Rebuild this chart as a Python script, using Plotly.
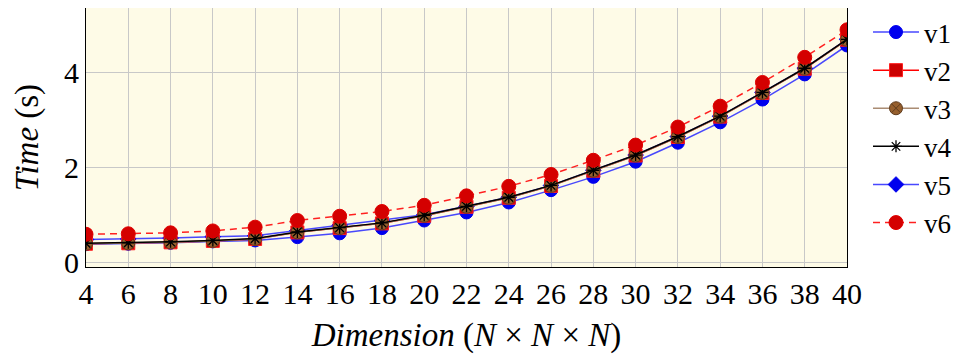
import plotly.graph_objects as go

dims = [4, 6, 8, 10, 12, 14, 16, 18, 20, 22, 24, 26, 28, 30, 32, 34, 36, 38, 40]
v1 = [0.38, 0.39, 0.41, 0.44, 0.46, 0.53, 0.61, 0.72, 0.88, 1.05, 1.26, 1.52, 1.80, 2.12, 2.52, 2.95, 3.43, 3.96, 4.57]
v2 = [0.39, 0.40, 0.42, 0.45, 0.49, 0.63, 0.72, 0.82, 0.98, 1.17, 1.36, 1.61, 1.93, 2.25, 2.64, 3.07, 3.57, 4.08, 4.69]
v3 = [0.39, 0.40, 0.42, 0.45, 0.49, 0.63, 0.72, 0.82, 0.98, 1.17, 1.36, 1.61, 1.93, 2.25, 2.64, 3.07, 3.57, 4.08, 4.69]
v4 = [0.40, 0.41, 0.43, 0.46, 0.50, 0.64, 0.73, 0.83, 0.99, 1.18, 1.37, 1.62, 1.94, 2.26, 2.65, 3.08, 3.58, 4.09, 4.70]
v5 = [0.48, 0.49, 0.51, 0.54, 0.56, 0.67, 0.78, 0.88, 1.00, 1.18, 1.37, 1.62, 1.94, 2.26, 2.65, 3.08, 3.58, 4.09, 4.70]
v6 = [0.59, 0.60, 0.62, 0.66, 0.74, 0.88, 0.97, 1.07, 1.20, 1.40, 1.60, 1.85, 2.15, 2.47, 2.85, 3.29, 3.79, 4.32, 4.90]
x_ticks = dims
y_ticks = [0, 2, 4]

FONT = "Liberation Serif"
BLUE_LINE = "rgba(40,40,255,0.85)"

fig = go.Figure()
# drawing order: v1, v5, v2, v3, v4, v6 (legend order kept via legendrank)
fig.add_trace(go.Scatter(x=dims, y=v1, name="v1", legendrank=1, mode="lines+markers",
                         line=dict(color=BLUE_LINE, width=1.5),
                         marker=dict(symbol="circle", size=13, color="#0000ee",
                                     line=dict(color="#0000ee", width=1))))
fig.add_trace(go.Scatter(x=dims, y=v5, name="v5", legendrank=5, mode="lines+markers",
                         line=dict(color=BLUE_LINE, width=1.5),
                         marker=dict(symbol="diamond", size=12, color="#0000ee",
                                     line=dict(color="#0000ee", width=1))))
fig.add_trace(go.Scatter(x=dims, y=v2, name="v2", legendrank=2, mode="lines+markers",
                         line=dict(color="#ff0000", width=1.5),
                         marker=dict(symbol="square", size=13, color="#cc0000",
                                     line=dict(color="#ff2020", width=1))))
fig.add_trace(go.Scatter(x=dims, y=v3, name="v3", legendrank=3, mode="lines+markers",
                         line=dict(color="rgb(170,140,115)", width=1.5),
                         marker=dict(symbol="circle-x", size=13, color="rgb(150,95,45)",
                                     line=dict(color="rgb(95,60,30)", width=1))))
fig.add_trace(go.Scatter(x=dims, y=v4, name="v4", legendrank=4, mode="lines+markers",
                         line=dict(color="#000000", width=1.5),
                         marker=dict(symbol="asterisk-open", size=10, color="#000000",
                                     line=dict(color="#000000", width=1.3))))
fig.add_trace(go.Scatter(x=dims, y=v6, name="v6", legendrank=6, mode="lines+markers",
                         line=dict(color="#ff2020", width=1.5, dash="7px,5px"),
                         marker=dict(symbol="circle", size=14, color="#d40000",
                                     line=dict(color="#e00000", width=1))))

# the page places the figure 8px from the top-left corner, so the figure is 8px smaller
fig.update_layout(
    width=961, height=346,
    margin=dict(l=78, r=122, t=0, b=87),
    paper_bgcolor="white",
    plot_bgcolor="#fefbe7",
    font=dict(family=FONT, size=30, color="black"),
    legend=dict(x=1.0276, y=1.0, xanchor="left", yanchor="top",
                font=dict(family=FONT, size=27), bgcolor="rgba(0,0,0,0)",
                tracegroupgap=0, itemwidth=46, traceorder="normal",
                borderwidth=0),
    showlegend=True,
)
fig.update_xaxes(range=[4, 40], tickvals=x_ticks, ticktext=[str(t) for t in x_ticks],
                 showgrid=True, gridcolor="#c8c8c8", gridwidth=1.2,
                 showline=True, linecolor="black", linewidth=1.2, mirror=True,
                 ticks="", zeroline=False, tickfont=dict(size=30), automargin=False,
                 title=dict(text="<i>Dimension</i> (<i>N</i> × <i>N</i> × <i>N</i>)",
                            font=dict(size=33)))
fig.update_yaxes(range=[-0.1, 5.36], tickvals=y_ticks, ticktext=[str(t) for t in y_ticks],
                 showgrid=True, gridcolor="#c8c8c8", gridwidth=1.2,
                 showline=True, linecolor="black", linewidth=1.2, mirror=True,
                 ticks="", zeroline=False, tickfont=dict(size=30), automargin=False,
                 title=dict(text="<i>Time</i> (s)", font=dict(size=33)))

fig.write_html("out.html")
